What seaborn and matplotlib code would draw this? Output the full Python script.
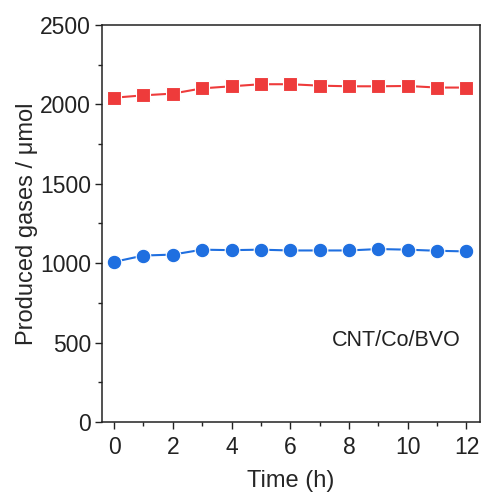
import matplotlib
matplotlib.use("Agg")
import matplotlib.pyplot as plt
import seaborn as sns
import pandas as pd
from matplotlib.ticker import MultipleLocator

time_h = [0, 1, 2, 3, 4, 5, 6, 7, 8, 9, 10, 11, 12]
red_series = [2042, 2057, 2068, 2101, 2114, 2127, 2127, 2118, 2114, 2114, 2116, 2106, 2106]
blue_series = [1008, 1048, 1054, 1085, 1082, 1085, 1080, 1080, 1080, 1089, 1085, 1078, 1074]
label_text = "CNT/Co/BVO"

sns.set_style("ticks")
plt.rcParams['font.family'] = ['Liberation Sans', 'DejaVu Sans']

fig = plt.figure(figsize=(4.85, 4.97), dpi=100)
ax = fig.add_axes([0.2103, 0.151, 0.989 - 0.2103, 0.9497 - 0.151])

df_red = pd.DataFrame({"t": time_h, "v": red_series})
df_blue = pd.DataFrame({"t": time_h, "v": blue_series})

sns.lineplot(data=df_red, x="t", y="v", ax=ax, color="#EE3B3B", marker="s",
             markersize=9.5, markeredgecolor="white", markeredgewidth=0.8, linewidth=1.5)
sns.lineplot(data=df_blue, x="t", y="v", ax=ax, color="#1F6FE0", marker="o",
             markersize=10.5, markeredgecolor="white", markeredgewidth=0.8, linewidth=1.5)

ax.set_xlim(-0.41, 12.45)
ax.set_ylim(0, 2500)
ax.xaxis.set_major_locator(MultipleLocator(2))
ax.xaxis.set_minor_locator(MultipleLocator(1))
ax.yaxis.set_major_locator(MultipleLocator(500))
ax.yaxis.set_minor_locator(MultipleLocator(250))

for s in ax.spines.values():
    s.set_visible(True)
    s.set_linewidth(1.1)
    s.set_color("#222222")

ax.tick_params(axis="both", which="major", direction="out", length=5, width=1.0,
               labelsize=16.5, colors="#222222", labelcolor="#222222", pad=3)
ax.tick_params(axis="x", which="major", pad=5)
ax.tick_params(axis="both", which="minor", direction="out", length=3, width=1.0, colors="#222222")
ax.tick_params(top=False, right=False, which="both")

ax.set_xlabel("Time (h)", fontsize=17, labelpad=8)
ax.set_ylabel("Produced gases / μmol", fontsize=17, labelpad=1)

ax.text(0.61, 0.205, label_text, transform=ax.transAxes, fontsize=15.5,
        ha="left", va="center", color="#222222")

fig.savefig("out.png", dpi=100)
